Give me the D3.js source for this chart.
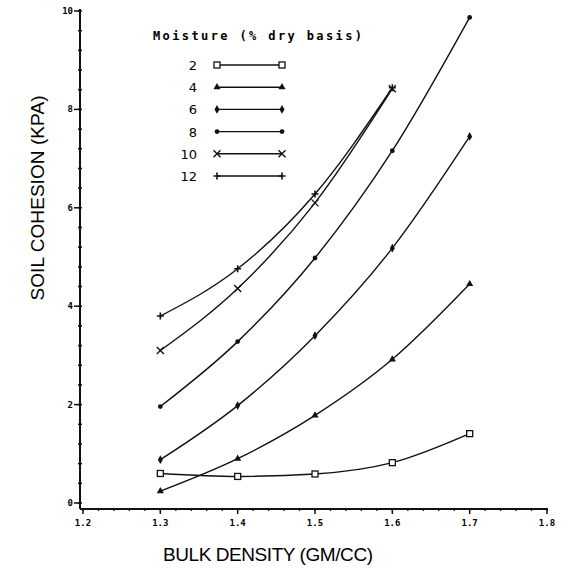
<!DOCTYPE html>
<html>
<head>
<meta charset="utf-8">
<script src="https://cdn.jsdelivr.net/npm/d3@7"></script>
<style>
  body { margin: 0; background: #fff; }
  #viz { width: 568px; height: 577px; }
</style>
</head>
<body>
<div id="viz"></div>
<script>
// bulk density (gm/cc)
var densities = [1.3, 1.4, 1.5, 1.6, 1.7];
var moistureLabels = ['2', '4', '6', '8', '10', '12'];
var markerTypes = ['square', 'triangle', 'diamond', 'dot', 'cross', 'plus'];

// soil cohesion (kPa) per moisture level
var m2 = [0.60, 0.54, 0.59, 0.82, 1.41];
var m4 = [0.24, 0.90, 1.78, 2.92, 4.45];
var m6 = [0.88, 1.98, 3.40, 5.18, 7.45];
var m8 = [1.96, 3.28, 4.98, 7.16, 9.87];
var m10 = [3.10, 4.36, 6.10, 8.42];
var m12 = [3.80, 4.76, 6.28, 8.44];
var allSeries = [m2, m4, m6, m8, m10, m12];

var xTicks = [1.2, 1.3, 1.4, 1.5, 1.6, 1.7, 1.8];
var yTicks = [0, 2, 4, 6, 8, 10];

function makeChart() {
    var width = 568, height = 577;
    var svg = d3.select('#viz').append('svg')
        .attr('width', width)
        .attr('height', height);

    var xScale = d3.scaleLinear().domain([1.2, 1.8]).range([83, 547]);
    var yScale = d3.scaleLinear().domain([0, 10]).range([503, 11]);
    var axisX = 80, axisY = 509;

    // y axis
    var yAxis = svg.append('g').attr('transform', 'translate(' + axisX + ',0)');
    yAxis.append('line')
        .attr('y1', yScale(10) - 2).attr('y2', axisY)
        .attr('stroke', '#111').attr('stroke-width', 2);
    var yMinor = d3.range(0, 10.01, 0.4);
    yAxis.selectAll('.ymin').data(yMinor).enter().append('line')
        .attr('x1', -2).attr('x2', 2)
        .attr('y1', function (d) { return yScale(d); })
        .attr('y2', function (d) { return yScale(d); })
        .attr('stroke', '#111').attr('stroke-width', 1.5);
    yAxis.selectAll('.ymaj').data(yTicks).enter().append('line')
        .attr('x1', -6).attr('x2', 0)
        .attr('y1', function (d) { return yScale(d); })
        .attr('y2', function (d) { return yScale(d); })
        .attr('stroke', '#111').attr('stroke-width', 1.5);
    yAxis.selectAll('text').data(yTicks).enter().append('text')
        .attr('x', -7)
        .attr('y', function (d) { return yScale(d) + 3; })
        .attr('text-anchor', 'end')
        .style('font', 'bold 9px "DejaVu Sans Mono"')
        .text(function (d) { return d; });

    // x axis
    var xAxis = svg.append('g').attr('transform', 'translate(0,' + axisY + ')');
    xAxis.append('line')
        .attr('x1', axisX).attr('x2', xScale(1.8) + 1)
        .attr('stroke', '#111').attr('stroke-width', 2);
    var xMinor = d3.range(1.2, 1.801, 0.02);
    xAxis.selectAll('.xmin').data(xMinor).enter().append('line')
        .attr('x1', function (d) { return xScale(d); })
        .attr('x2', function (d) { return xScale(d); })
        .attr('y1', 0).attr('y2', 2)
        .attr('stroke', '#111').attr('stroke-width', 1.3);
    xAxis.selectAll('.xmaj').data(xTicks).enter().append('line')
        .attr('x1', function (d) { return xScale(d); })
        .attr('x2', function (d) { return xScale(d); })
        .attr('y1', 0).attr('y2', 5)
        .attr('stroke', '#111').attr('stroke-width', 1.5);
    xAxis.selectAll('text').data(xTicks).enter().append('text')
        .attr('x', function (d) { return xScale(d); })
        .attr('y', 17)
        .attr('text-anchor', 'middle')
        .style('font', 'bold 9px "DejaVu Sans Mono"')
        .text(function (d) { return d.toFixed(1); });

    // axis titles
    svg.append('text')
        .attr('x', 268).attr('y', 561)
        .attr('text-anchor', 'middle')
        .attr('textLength', 210)
        .style('font', '19px "Liberation Sans"')
        .text('BULK DENSITY (GM/CC)');
    svg.append('text')
        .attr('transform', 'translate(44,198) rotate(-90)')
        .attr('text-anchor', 'middle')
        .attr('textLength', 205)
        .style('font', '19px "Liberation Sans"')
        .text('SOIL COHESION (KPA)');

    var line = d3.line()
        .x(function (d) { return xScale(d.x); })
        .y(function (d) { return yScale(d.y); })
        .curve(d3.curveMonotoneX);

    var plot = svg.append('g');
    allSeries.forEach(function (vals, i) {
        var pts = vals.map(function (v, j) { return { x: densities[j], y: v }; });
        plot.append('path')
            .datum(pts)
            .attr('d', line)
            .attr('fill', 'none')
            .attr('stroke', '#111')
            .attr('stroke-width', 1.4);
        pts.forEach(function (p) {
            drawMarker(plot, markerTypes[i], xScale(p.x), yScale(p.y));
        });
    });

    // legend
    var legend = svg.append('g');
    legend.append('text')
        .attr('x', 153).attr('y', 40)
        .attr('textLength', 209)
        .style('font', 'bold 12px "DejaVu Sans Mono"')
        .text('Moisture (% dry basis)');
    moistureLabels.forEach(function (lab, i) {
        var ly = 65 + i * 22.2;
        legend.append('text')
            .attr('x', 197).attr('y', ly + 5)
            .attr('text-anchor', 'end')
            .style('font', '13px "DejaVu Sans"')
            .text(lab);
        legend.append('line')
            .attr('x1', 217).attr('x2', 282)
            .attr('y1', ly).attr('y2', ly)
            .attr('stroke', '#111').attr('stroke-width', 1.4);
        drawMarker(legend, markerTypes[i], 217, ly);
        drawMarker(legend, markerTypes[i], 282, ly);
    });
}

function drawMarker(g, type, x, y) {
    if (type == 'square') {
        g.append('rect')
            .attr('x', x - 3).attr('y', y - 3)
            .attr('width', 6).attr('height', 6)
            .attr('fill', '#fff').attr('stroke', '#111').attr('stroke-width', 1.3);
    } else if (type == 'triangle') {
        g.append('path')
            .attr('d', d3.symbol().type(d3.symbolTriangle).size(22))
            .attr('transform', 'translate(' + x + ',' + y + ')')
            .attr('fill', '#111');
    } else if (type == 'diamond') {
        g.append('path')
            .attr('d', d3.symbol().type(d3.symbolDiamond).size(22))
            .attr('transform', 'translate(' + x + ',' + y + ')')
            .attr('fill', '#111');
    } else if (type == 'dot') {
        g.append('circle')
            .attr('cx', x).attr('cy', y).attr('r', 2.4)
            .attr('fill', '#111');
    } else if (type == 'cross') {
        g.append('path')
            .attr('d', 'M' + (x - 3.5) + ',' + (y - 3.5) + 'L' + (x + 3.5) + ',' + (y + 3.5) +
                'M' + (x - 3.5) + ',' + (y + 3.5) + 'L' + (x + 3.5) + ',' + (y - 3.5))
            .attr('stroke', '#111').attr('stroke-width', 1.4);
    } else if (type == 'plus') {
        g.append('path')
            .attr('d', 'M' + (x - 3.5) + ',' + y + 'L' + (x + 3.5) + ',' + y +
                'M' + x + ',' + (y - 3.5) + 'L' + x + ',' + (y + 3.5))
            .attr('stroke', '#111').attr('stroke-width', 1.6);
    }
}

makeChart();
</script>
</body>
</html>
